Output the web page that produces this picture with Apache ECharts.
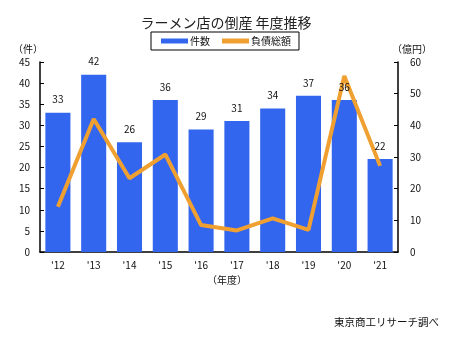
<!DOCTYPE html>
<html>
<head>
<meta charset="utf-8">
<script src="https://cdn.jsdelivr.net/npm/echarts@6/dist/echarts.min.js"></script>
<style>
html,body{margin:0;padding:0;background:#fff;}
#chart{width:452px;height:341px;}
</style>
</head>
<body>
<div id="chart"></div>
<script>
// Fiscal years
const years = ["'12", "'13", "'14", "'15", "'16", "'17", "'18", "'19", "'20", "'21"];
// Number of bankruptcies (件)
const cases = [33, 42, 26, 36, 29, 31, 34, 37, 36, 22];
// Total liabilities (億円)
const debt = [14.3, 42.0, 23.3, 30.8, 8.5, 6.8, 10.6, 7.0, 55.6, 27.2];

const FONT = '"Noto Sans CJK JP", sans-serif';
const TXT = '#111';
const chart = echarts.init(document.getElementById('chart'));
chart.setOption({
  animation: false,
  textStyle: { fontFamily: FONT },
  title: {
    text: 'ラーメン店の倒産 年度推移',
    left: 'center', top: 11,
    textStyle: { fontSize: 14, fontWeight: 'normal', color: '#222', fontFamily: FONT }
  },
  legend: {
    top: 32, left: 'center',
    borderColor: '#000', borderWidth: 1, padding: [4, 8, 4, 10],
    itemGap: 12, itemWidth: 27, itemHeight: 5,
    textStyle: { fontSize: 10, color: TXT, fontFamily: FONT, padding: [0, 0, 0, -3] },
    data: [
      { name: '件数', icon: 'rect' },
      { name: '負債総額', icon: 'rect' }
    ]
  },
  grid: { left: 40, right: 54, top: 62, bottom: 89 },
  xAxis: {
    type: 'category', data: years,
    axisLine: { lineStyle: { color: '#000', width: 1.5 } },
    axisTick: { inside: true, length: 4, lineStyle: { color: '#000' } },
    axisLabel: { fontSize: 10, color: TXT, margin: 8 }
  },
  yAxis: [
    {
      type: 'value', min: 0, max: 45, interval: 5,
      name: '（件）', nameGap: 8,
      nameTextStyle: { fontSize: 10, color: TXT, align: 'center', padding: [0, 24, 0, 0] },
      axisLine: { show: true, lineStyle: { color: '#000', width: 1.5 } },
      axisTick: { show: true, inside: true, length: 4, lineStyle: { color: '#000' } },
      axisLabel: { fontSize: 10, color: TXT, margin: 10 },
      splitLine: { show: false }
    },
    {
      type: 'value', min: 0, max: 60, interval: 10,
      name: '（億円）', nameGap: 8,
      nameTextStyle: { fontSize: 10, color: TXT, align: 'center', padding: [0, 0, 0, 28] },
      axisLine: { show: true, lineStyle: { color: '#000', width: 1.5 } },
      axisTick: { show: true, inside: true, length: 4, lineStyle: { color: '#000' } },
      axisLabel: { fontSize: 10, color: TXT, margin: 12 },
      splitLine: { show: false }
    }
  ],
  series: [
    {
      name: '件数', type: 'bar', data: cases, barWidth: '70%',
      itemStyle: { color: '#3366ee' }
    },
    {
      name: '負債総額', type: 'line', yAxisIndex: 1, data: debt,
      symbol: 'none',
      lineStyle: { color: '#f0a030', width: 4 },
      itemStyle: { color: '#f0a030' }
    },
    {
      // value labels for the bars, kept above the line
      type: 'scatter', data: cases, symbolSize: 0, z: 10, silent: true,
      itemStyle: { color: TXT, opacity: 1 },
      label: { show: true, position: 'top', distance: 8, fontSize: 10, color: TXT }
    }
  ],
  graphic: [
    {
      type: 'text', left: 207, top: 275,
      style: { text: '（年度）', font: '10px ' + FONT, fill: TXT }
    },
    {
      type: 'text', right: 13, top: 317,
      style: { text: '東京商工リサーチ調べ', font: '10.5px ' + FONT, fill: TXT }
    }
  ]
});
</script>
</body>
</html>
